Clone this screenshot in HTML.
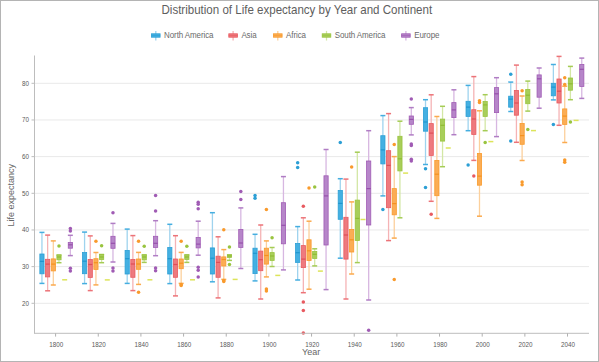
<!DOCTYPE html>
<html><head><meta charset="utf-8"><style>
html,body{margin:0;padding:0;background:#fff;}
.wrap{position:relative;width:599px;height:362px;overflow:hidden;}
.frame{position:absolute;left:0;top:0;width:597px;height:360px;border:1px solid #b4b4b4;}
svg{position:absolute;left:0;top:0;}
text{font-family:"Liberation Sans",sans-serif;}
.tk{font-size:6.3px;fill:#5a5a5a;}
.title{font-size:11.55px;fill:#5e5e5e;}
.axt{font-size:9px;fill:#666;}
.leg{font-size:8px;fill:#6a6a6a;letter-spacing:-0.1px;}
</style></head><body><div class="wrap"><div class="frame"></div>
<svg width="599" height="362" viewBox="0 0 599 362">
<line x1="34.5" y1="303.30" x2="589.0" y2="303.30" stroke="#e9e9e9" stroke-width="1"/>
<line x1="34.5" y1="266.63" x2="589.0" y2="266.63" stroke="#e9e9e9" stroke-width="1"/>
<line x1="34.5" y1="229.97" x2="589.0" y2="229.97" stroke="#e9e9e9" stroke-width="1"/>
<line x1="34.5" y1="193.30" x2="589.0" y2="193.30" stroke="#e9e9e9" stroke-width="1"/>
<line x1="34.5" y1="156.63" x2="589.0" y2="156.63" stroke="#e9e9e9" stroke-width="1"/>
<line x1="34.5" y1="119.97" x2="589.0" y2="119.97" stroke="#e9e9e9" stroke-width="1"/>
<line x1="34.5" y1="83.30" x2="589.0" y2="83.30" stroke="#e9e9e9" stroke-width="1"/>
<line x1="41.95" y1="232.40" x2="41.95" y2="254.00" stroke="#9fd3ee" stroke-width="1.3"/>
<line x1="41.95" y1="273.80" x2="41.95" y2="283.40" stroke="#9fd3ee" stroke-width="1.3"/>
<line x1="39.45" y1="232.40" x2="44.45" y2="232.40" stroke="#45aee0" stroke-width="1.5"/>
<line x1="39.45" y1="283.40" x2="44.45" y2="283.40" stroke="#45aee0" stroke-width="1.5"/>
<rect x="39.85" y="254.00" width="4.2" height="19.80" fill="#44b0e2" stroke="#2c9fd5" stroke-width="0.8"/>
<line x1="39.85" y1="261.40" x2="44.05" y2="261.40" stroke="#1f96cf" stroke-width="1.2"/>
<line x1="47.63" y1="235.10" x2="47.63" y2="259.30" stroke="#f5b3b5" stroke-width="1.3"/>
<line x1="47.63" y1="276.90" x2="47.63" y2="290.80" stroke="#f5b3b5" stroke-width="1.3"/>
<line x1="45.13" y1="235.10" x2="50.13" y2="235.10" stroke="#ec7378" stroke-width="1.5"/>
<line x1="45.13" y1="290.80" x2="50.13" y2="290.80" stroke="#ec7378" stroke-width="1.5"/>
<rect x="45.53" y="259.30" width="4.2" height="17.60" fill="#ee7a7e" stroke="#e85a60" stroke-width="0.8"/>
<line x1="45.53" y1="264.10" x2="49.73" y2="264.10" stroke="#e04e56" stroke-width="1.2"/>
<line x1="53.31" y1="240.90" x2="53.31" y2="258.90" stroke="#fcd09c" stroke-width="1.3"/>
<line x1="53.31" y1="270.90" x2="53.31" y2="285.00" stroke="#fcd09c" stroke-width="1.3"/>
<line x1="50.81" y1="240.90" x2="55.81" y2="240.90" stroke="#fbaa4e" stroke-width="1.5"/>
<line x1="50.81" y1="285.00" x2="55.81" y2="285.00" stroke="#fbaa4e" stroke-width="1.5"/>
<rect x="51.21" y="258.90" width="4.2" height="12.00" fill="#fbad55" stroke="#f99a2c" stroke-width="0.8"/>
<line x1="51.21" y1="264.10" x2="55.41" y2="264.10" stroke="#f5921f" stroke-width="1.2"/>
<line x1="58.99" y1="259.80" x2="58.99" y2="262.70" stroke="#d3e7a5" stroke-width="1.3"/>
<line x1="56.49" y1="255.00" x2="61.49" y2="255.00" stroke="#a5cc55" stroke-width="1.5"/>
<line x1="56.49" y1="262.70" x2="61.49" y2="262.70" stroke="#a5cc55" stroke-width="1.5"/>
<rect x="56.89" y="255.00" width="4.2" height="4.80" fill="#a8ce5a" stroke="#99c43f" stroke-width="0.8"/>
<line x1="56.89" y1="257.00" x2="61.09" y2="257.00" stroke="#8fbc33" stroke-width="1.2"/>
<circle cx="58.99" cy="245.90" r="1.75" fill="#99c43f"/>
<line x1="62.17" y1="279.80" x2="67.17" y2="279.80" stroke="#dde45a" stroke-width="1.5"/>
<line x1="70.35" y1="235.30" x2="70.35" y2="242.40" stroke="#d7b7e1" stroke-width="1.3"/>
<line x1="70.35" y1="248.20" x2="70.35" y2="255.60" stroke="#d7b7e1" stroke-width="1.3"/>
<line x1="67.85" y1="235.30" x2="72.85" y2="235.30" stroke="#b07dc4" stroke-width="1.5"/>
<line x1="67.85" y1="255.60" x2="72.85" y2="255.60" stroke="#b07dc4" stroke-width="1.5"/>
<rect x="68.25" y="242.40" width="4.2" height="5.80" fill="#b686c9" stroke="#a05bb4" stroke-width="0.8"/>
<line x1="68.25" y1="244.80" x2="72.45" y2="244.80" stroke="#9750ab" stroke-width="1.2"/>
<circle cx="70.35" cy="228.60" r="1.75" fill="#a05bb4"/>
<circle cx="70.35" cy="231.00" r="1.75" fill="#a05bb4"/>
<circle cx="70.35" cy="268.20" r="1.75" fill="#a05bb4"/>
<circle cx="70.35" cy="270.90" r="1.75" fill="#a05bb4"/>
<line x1="84.57" y1="232.10" x2="84.57" y2="252.50" stroke="#9fd3ee" stroke-width="1.3"/>
<line x1="84.57" y1="273.70" x2="84.57" y2="283.60" stroke="#9fd3ee" stroke-width="1.3"/>
<line x1="82.07" y1="232.10" x2="87.07" y2="232.10" stroke="#45aee0" stroke-width="1.5"/>
<line x1="82.07" y1="283.60" x2="87.07" y2="283.60" stroke="#45aee0" stroke-width="1.5"/>
<rect x="82.47" y="252.50" width="4.2" height="21.20" fill="#44b0e2" stroke="#2c9fd5" stroke-width="0.8"/>
<line x1="82.47" y1="261.20" x2="86.67" y2="261.20" stroke="#1f96cf" stroke-width="1.2"/>
<line x1="90.25" y1="235.90" x2="90.25" y2="259.50" stroke="#f5b3b5" stroke-width="1.3"/>
<line x1="90.25" y1="277.40" x2="90.25" y2="290.60" stroke="#f5b3b5" stroke-width="1.3"/>
<line x1="87.75" y1="235.90" x2="92.75" y2="235.90" stroke="#ec7378" stroke-width="1.5"/>
<line x1="87.75" y1="290.60" x2="92.75" y2="290.60" stroke="#ec7378" stroke-width="1.5"/>
<rect x="88.15" y="259.50" width="4.2" height="17.90" fill="#ee7a7e" stroke="#e85a60" stroke-width="0.8"/>
<line x1="88.15" y1="264.50" x2="92.35" y2="264.50" stroke="#e04e56" stroke-width="1.2"/>
<line x1="95.93" y1="252.50" x2="95.93" y2="258.70" stroke="#fcd09c" stroke-width="1.3"/>
<line x1="95.93" y1="269.40" x2="95.93" y2="284.90" stroke="#fcd09c" stroke-width="1.3"/>
<line x1="93.43" y1="252.50" x2="98.43" y2="252.50" stroke="#fbaa4e" stroke-width="1.5"/>
<line x1="93.43" y1="284.90" x2="98.43" y2="284.90" stroke="#fbaa4e" stroke-width="1.5"/>
<rect x="93.83" y="258.70" width="4.2" height="10.70" fill="#fbad55" stroke="#f99a2c" stroke-width="0.8"/>
<line x1="93.83" y1="262.70" x2="98.03" y2="262.70" stroke="#f5921f" stroke-width="1.2"/>
<circle cx="95.93" cy="241.30" r="1.75" fill="#f99a2c"/>
<line x1="101.61" y1="259.50" x2="101.61" y2="262.70" stroke="#d3e7a5" stroke-width="1.3"/>
<line x1="99.11" y1="254.50" x2="104.11" y2="254.50" stroke="#a5cc55" stroke-width="1.5"/>
<line x1="99.11" y1="262.70" x2="104.11" y2="262.70" stroke="#a5cc55" stroke-width="1.5"/>
<rect x="99.51" y="254.50" width="4.2" height="5.00" fill="#a8ce5a" stroke="#99c43f" stroke-width="0.8"/>
<line x1="99.51" y1="257.00" x2="103.71" y2="257.00" stroke="#8fbc33" stroke-width="1.2"/>
<circle cx="101.61" cy="245.80" r="1.75" fill="#99c43f"/>
<line x1="104.79" y1="279.90" x2="109.79" y2="279.90" stroke="#dde45a" stroke-width="1.5"/>
<line x1="112.97" y1="223.40" x2="112.97" y2="236.30" stroke="#d7b7e1" stroke-width="1.3"/>
<line x1="112.97" y1="248.30" x2="112.97" y2="262.00" stroke="#d7b7e1" stroke-width="1.3"/>
<line x1="110.47" y1="223.40" x2="115.47" y2="223.40" stroke="#b07dc4" stroke-width="1.5"/>
<line x1="110.47" y1="262.00" x2="115.47" y2="262.00" stroke="#b07dc4" stroke-width="1.5"/>
<rect x="110.87" y="236.30" width="4.2" height="12.00" fill="#b686c9" stroke="#a05bb4" stroke-width="0.8"/>
<line x1="110.87" y1="243.30" x2="115.07" y2="243.30" stroke="#9750ab" stroke-width="1.2"/>
<circle cx="112.97" cy="212.70" r="1.75" fill="#a05bb4"/>
<circle cx="112.97" cy="268.00" r="1.75" fill="#a05bb4"/>
<circle cx="112.97" cy="270.90" r="1.75" fill="#a05bb4"/>
<line x1="127.19" y1="229.10" x2="127.19" y2="250.40" stroke="#9fd3ee" stroke-width="1.3"/>
<line x1="127.19" y1="274.00" x2="127.19" y2="283.40" stroke="#9fd3ee" stroke-width="1.3"/>
<line x1="124.69" y1="229.10" x2="129.69" y2="229.10" stroke="#45aee0" stroke-width="1.5"/>
<line x1="124.69" y1="283.40" x2="129.69" y2="283.40" stroke="#45aee0" stroke-width="1.5"/>
<rect x="125.09" y="250.40" width="4.2" height="23.60" fill="#44b0e2" stroke="#2c9fd5" stroke-width="0.8"/>
<line x1="125.09" y1="258.70" x2="129.29" y2="258.70" stroke="#1f96cf" stroke-width="1.2"/>
<line x1="132.87" y1="235.60" x2="132.87" y2="259.40" stroke="#f5b3b5" stroke-width="1.3"/>
<line x1="132.87" y1="277.30" x2="132.87" y2="290.60" stroke="#f5b3b5" stroke-width="1.3"/>
<line x1="130.37" y1="235.60" x2="135.37" y2="235.60" stroke="#ec7378" stroke-width="1.5"/>
<line x1="130.37" y1="290.60" x2="135.37" y2="290.60" stroke="#ec7378" stroke-width="1.5"/>
<rect x="130.77" y="259.40" width="4.2" height="17.90" fill="#ee7a7e" stroke="#e85a60" stroke-width="0.8"/>
<line x1="130.77" y1="264.00" x2="134.97" y2="264.00" stroke="#e04e56" stroke-width="1.2"/>
<line x1="138.55" y1="252.40" x2="138.55" y2="259.00" stroke="#fcd09c" stroke-width="1.3"/>
<line x1="138.55" y1="269.30" x2="138.55" y2="284.40" stroke="#fcd09c" stroke-width="1.3"/>
<line x1="136.05" y1="252.40" x2="141.05" y2="252.40" stroke="#fbaa4e" stroke-width="1.5"/>
<line x1="136.05" y1="284.40" x2="141.05" y2="284.40" stroke="#fbaa4e" stroke-width="1.5"/>
<rect x="136.45" y="259.00" width="4.2" height="10.30" fill="#fbad55" stroke="#f99a2c" stroke-width="0.8"/>
<line x1="136.45" y1="264.00" x2="140.65" y2="264.00" stroke="#f5921f" stroke-width="1.2"/>
<circle cx="138.55" cy="241.30" r="1.75" fill="#f99a2c"/>
<circle cx="138.55" cy="292.20" r="1.75" fill="#f99a2c"/>
<line x1="144.23" y1="259.90" x2="144.23" y2="262.40" stroke="#d3e7a5" stroke-width="1.3"/>
<line x1="141.73" y1="254.90" x2="146.73" y2="254.90" stroke="#a5cc55" stroke-width="1.5"/>
<line x1="141.73" y1="262.40" x2="146.73" y2="262.40" stroke="#a5cc55" stroke-width="1.5"/>
<rect x="142.13" y="254.90" width="4.2" height="5.00" fill="#a8ce5a" stroke="#99c43f" stroke-width="0.8"/>
<line x1="142.13" y1="257.00" x2="146.33" y2="257.00" stroke="#8fbc33" stroke-width="1.2"/>
<circle cx="144.23" cy="246.30" r="1.75" fill="#99c43f"/>
<line x1="147.41" y1="279.80" x2="152.41" y2="279.80" stroke="#dde45a" stroke-width="1.5"/>
<line x1="155.59" y1="220.70" x2="155.59" y2="236.30" stroke="#d7b7e1" stroke-width="1.3"/>
<line x1="155.59" y1="247.40" x2="155.59" y2="255.70" stroke="#d7b7e1" stroke-width="1.3"/>
<line x1="153.09" y1="220.70" x2="158.09" y2="220.70" stroke="#b07dc4" stroke-width="1.5"/>
<line x1="153.09" y1="255.70" x2="158.09" y2="255.70" stroke="#b07dc4" stroke-width="1.5"/>
<rect x="153.49" y="236.30" width="4.2" height="11.10" fill="#b686c9" stroke="#a05bb4" stroke-width="0.8"/>
<line x1="153.49" y1="243.30" x2="157.69" y2="243.30" stroke="#9750ab" stroke-width="1.2"/>
<circle cx="155.59" cy="195.50" r="1.75" fill="#a05bb4"/>
<circle cx="155.59" cy="211.10" r="1.75" fill="#a05bb4"/>
<circle cx="155.59" cy="267.90" r="1.75" fill="#a05bb4"/>
<circle cx="155.59" cy="270.70" r="1.75" fill="#a05bb4"/>
<line x1="169.80" y1="224.30" x2="169.80" y2="247.40" stroke="#9fd3ee" stroke-width="1.3"/>
<line x1="169.80" y1="274.00" x2="169.80" y2="283.60" stroke="#9fd3ee" stroke-width="1.3"/>
<line x1="167.30" y1="224.30" x2="172.30" y2="224.30" stroke="#45aee0" stroke-width="1.5"/>
<line x1="167.30" y1="283.60" x2="172.30" y2="283.60" stroke="#45aee0" stroke-width="1.5"/>
<rect x="167.70" y="247.40" width="4.2" height="26.60" fill="#44b0e2" stroke="#2c9fd5" stroke-width="0.8"/>
<line x1="167.70" y1="258.70" x2="171.90" y2="258.70" stroke="#1f96cf" stroke-width="1.2"/>
<line x1="175.48" y1="235.70" x2="175.48" y2="259.00" stroke="#f5b3b5" stroke-width="1.3"/>
<line x1="175.48" y1="277.30" x2="175.48" y2="295.90" stroke="#f5b3b5" stroke-width="1.3"/>
<line x1="172.98" y1="235.70" x2="177.98" y2="235.70" stroke="#ec7378" stroke-width="1.5"/>
<line x1="172.98" y1="295.90" x2="177.98" y2="295.90" stroke="#ec7378" stroke-width="1.5"/>
<rect x="173.38" y="259.00" width="4.2" height="18.30" fill="#ee7a7e" stroke="#e85a60" stroke-width="0.8"/>
<line x1="173.38" y1="264.50" x2="177.58" y2="264.50" stroke="#e04e56" stroke-width="1.2"/>
<line x1="181.16" y1="252.40" x2="181.16" y2="259.00" stroke="#fcd09c" stroke-width="1.3"/>
<line x1="181.16" y1="268.70" x2="181.16" y2="283.40" stroke="#fcd09c" stroke-width="1.3"/>
<line x1="178.66" y1="252.40" x2="183.66" y2="252.40" stroke="#fbaa4e" stroke-width="1.5"/>
<line x1="178.66" y1="283.40" x2="183.66" y2="283.40" stroke="#fbaa4e" stroke-width="1.5"/>
<rect x="179.06" y="259.00" width="4.2" height="9.70" fill="#fbad55" stroke="#f99a2c" stroke-width="0.8"/>
<line x1="179.06" y1="263.20" x2="183.26" y2="263.20" stroke="#f5921f" stroke-width="1.2"/>
<circle cx="181.16" cy="241.30" r="1.75" fill="#f99a2c"/>
<circle cx="181.16" cy="284.60" r="1.75" fill="#f99a2c"/>
<circle cx="181.16" cy="285.60" r="1.75" fill="#f99a2c"/>
<line x1="186.84" y1="259.50" x2="186.84" y2="262.40" stroke="#d3e7a5" stroke-width="1.3"/>
<line x1="184.34" y1="254.90" x2="189.34" y2="254.90" stroke="#a5cc55" stroke-width="1.5"/>
<line x1="184.34" y1="262.40" x2="189.34" y2="262.40" stroke="#a5cc55" stroke-width="1.5"/>
<rect x="184.74" y="254.90" width="4.2" height="4.60" fill="#a8ce5a" stroke="#99c43f" stroke-width="0.8"/>
<line x1="184.74" y1="257.00" x2="188.94" y2="257.00" stroke="#8fbc33" stroke-width="1.2"/>
<circle cx="186.84" cy="246.30" r="1.75" fill="#99c43f"/>
<line x1="190.02" y1="279.80" x2="195.02" y2="279.80" stroke="#dde45a" stroke-width="1.5"/>
<line x1="198.20" y1="221.20" x2="198.20" y2="237.40" stroke="#d7b7e1" stroke-width="1.3"/>
<line x1="198.20" y1="247.90" x2="198.20" y2="255.20" stroke="#d7b7e1" stroke-width="1.3"/>
<line x1="195.70" y1="221.20" x2="200.70" y2="221.20" stroke="#b07dc4" stroke-width="1.5"/>
<line x1="195.70" y1="255.20" x2="200.70" y2="255.20" stroke="#b07dc4" stroke-width="1.5"/>
<rect x="196.10" y="237.40" width="4.2" height="10.50" fill="#b686c9" stroke="#a05bb4" stroke-width="0.8"/>
<line x1="196.10" y1="244.10" x2="200.30" y2="244.10" stroke="#9750ab" stroke-width="1.2"/>
<circle cx="198.20" cy="202.20" r="1.75" fill="#a05bb4"/>
<circle cx="198.20" cy="204.20" r="1.75" fill="#a05bb4"/>
<circle cx="198.20" cy="208.80" r="1.75" fill="#a05bb4"/>
<circle cx="198.20" cy="267.30" r="1.75" fill="#a05bb4"/>
<circle cx="198.20" cy="270.20" r="1.75" fill="#a05bb4"/>
<circle cx="198.20" cy="277.00" r="1.75" fill="#a05bb4"/>
<line x1="212.42" y1="212.70" x2="212.42" y2="247.90" stroke="#9fd3ee" stroke-width="1.3"/>
<line x1="212.42" y1="274.00" x2="212.42" y2="281.80" stroke="#9fd3ee" stroke-width="1.3"/>
<line x1="209.92" y1="212.70" x2="214.92" y2="212.70" stroke="#45aee0" stroke-width="1.5"/>
<line x1="209.92" y1="281.80" x2="214.92" y2="281.80" stroke="#45aee0" stroke-width="1.5"/>
<rect x="210.32" y="247.90" width="4.2" height="26.10" fill="#44b0e2" stroke="#2c9fd5" stroke-width="0.8"/>
<line x1="210.32" y1="258.20" x2="214.52" y2="258.20" stroke="#1f96cf" stroke-width="1.2"/>
<line x1="218.10" y1="236.80" x2="218.10" y2="256.20" stroke="#f5b3b5" stroke-width="1.3"/>
<line x1="218.10" y1="277.30" x2="218.10" y2="297.90" stroke="#f5b3b5" stroke-width="1.3"/>
<line x1="215.60" y1="236.80" x2="220.60" y2="236.80" stroke="#ec7378" stroke-width="1.5"/>
<line x1="215.60" y1="297.90" x2="220.60" y2="297.90" stroke="#ec7378" stroke-width="1.5"/>
<rect x="216.00" y="256.20" width="4.2" height="21.10" fill="#ee7a7e" stroke="#e85a60" stroke-width="0.8"/>
<line x1="216.00" y1="262.40" x2="220.20" y2="262.40" stroke="#e04e56" stroke-width="1.2"/>
<line x1="223.78" y1="249.60" x2="223.78" y2="256.90" stroke="#fcd09c" stroke-width="1.3"/>
<line x1="223.78" y1="266.00" x2="223.78" y2="279.40" stroke="#fcd09c" stroke-width="1.3"/>
<line x1="221.28" y1="249.60" x2="226.28" y2="249.60" stroke="#fbaa4e" stroke-width="1.5"/>
<line x1="221.28" y1="279.40" x2="226.28" y2="279.40" stroke="#fbaa4e" stroke-width="1.5"/>
<rect x="221.68" y="256.90" width="4.2" height="9.10" fill="#fbad55" stroke="#f99a2c" stroke-width="0.8"/>
<line x1="221.68" y1="259.50" x2="225.88" y2="259.50" stroke="#f5921f" stroke-width="1.2"/>
<circle cx="223.78" cy="229.80" r="1.75" fill="#f99a2c"/>
<circle cx="223.78" cy="280.60" r="1.75" fill="#f99a2c"/>
<circle cx="223.78" cy="281.60" r="1.75" fill="#f99a2c"/>
<line x1="229.46" y1="257.40" x2="229.46" y2="260.40" stroke="#d3e7a5" stroke-width="1.3"/>
<line x1="226.96" y1="254.90" x2="231.96" y2="254.90" stroke="#a5cc55" stroke-width="1.5"/>
<line x1="226.96" y1="260.40" x2="231.96" y2="260.40" stroke="#a5cc55" stroke-width="1.5"/>
<rect x="227.36" y="254.90" width="4.2" height="2.50" fill="#a8ce5a" stroke="#99c43f" stroke-width="0.8"/>
<line x1="227.36" y1="256.00" x2="231.56" y2="256.00" stroke="#8fbc33" stroke-width="1.2"/>
<circle cx="229.46" cy="247.10" r="1.75" fill="#99c43f"/>
<circle cx="229.46" cy="264.40" r="1.75" fill="#99c43f"/>
<line x1="232.64" y1="279.40" x2="237.64" y2="279.40" stroke="#dde45a" stroke-width="1.5"/>
<line x1="240.82" y1="207.90" x2="240.82" y2="229.40" stroke="#d7b7e1" stroke-width="1.3"/>
<line x1="240.82" y1="247.40" x2="240.82" y2="268.50" stroke="#d7b7e1" stroke-width="1.3"/>
<line x1="238.32" y1="207.90" x2="243.32" y2="207.90" stroke="#b07dc4" stroke-width="1.5"/>
<line x1="238.32" y1="268.50" x2="243.32" y2="268.50" stroke="#b07dc4" stroke-width="1.5"/>
<rect x="238.72" y="229.40" width="4.2" height="18.00" fill="#b686c9" stroke="#a05bb4" stroke-width="0.8"/>
<line x1="238.72" y1="243.00" x2="242.92" y2="243.00" stroke="#9750ab" stroke-width="1.2"/>
<circle cx="240.82" cy="191.60" r="1.75" fill="#a05bb4"/>
<circle cx="240.82" cy="199.40" r="1.75" fill="#a05bb4"/>
<line x1="255.04" y1="234.30" x2="255.04" y2="248.20" stroke="#9fd3ee" stroke-width="1.3"/>
<line x1="255.04" y1="273.60" x2="255.04" y2="280.90" stroke="#9fd3ee" stroke-width="1.3"/>
<line x1="252.54" y1="234.30" x2="257.54" y2="234.30" stroke="#45aee0" stroke-width="1.5"/>
<line x1="252.54" y1="280.90" x2="257.54" y2="280.90" stroke="#45aee0" stroke-width="1.5"/>
<rect x="252.94" y="248.20" width="4.2" height="25.40" fill="#44b0e2" stroke="#2c9fd5" stroke-width="0.8"/>
<line x1="252.94" y1="253.30" x2="257.14" y2="253.30" stroke="#1f96cf" stroke-width="1.2"/>
<circle cx="255.04" cy="195.60" r="1.75" fill="#2c9fd5"/>
<circle cx="255.04" cy="198.30" r="1.75" fill="#2c9fd5"/>
<line x1="260.72" y1="225.00" x2="260.72" y2="251.10" stroke="#f5b3b5" stroke-width="1.3"/>
<line x1="260.72" y1="270.70" x2="260.72" y2="299.00" stroke="#f5b3b5" stroke-width="1.3"/>
<line x1="258.22" y1="225.00" x2="263.22" y2="225.00" stroke="#ec7378" stroke-width="1.5"/>
<line x1="258.22" y1="299.00" x2="263.22" y2="299.00" stroke="#ec7378" stroke-width="1.5"/>
<rect x="258.62" y="251.10" width="4.2" height="19.60" fill="#ee7a7e" stroke="#e85a60" stroke-width="0.8"/>
<line x1="258.62" y1="259.70" x2="262.82" y2="259.70" stroke="#e04e56" stroke-width="1.2"/>
<line x1="266.40" y1="240.90" x2="266.40" y2="248.20" stroke="#fcd09c" stroke-width="1.3"/>
<line x1="266.40" y1="264.10" x2="266.40" y2="276.90" stroke="#fcd09c" stroke-width="1.3"/>
<line x1="263.90" y1="240.90" x2="268.90" y2="240.90" stroke="#fbaa4e" stroke-width="1.5"/>
<line x1="263.90" y1="276.90" x2="268.90" y2="276.90" stroke="#fbaa4e" stroke-width="1.5"/>
<rect x="264.30" y="248.20" width="4.2" height="15.90" fill="#fbad55" stroke="#f99a2c" stroke-width="0.8"/>
<line x1="264.30" y1="255.50" x2="268.50" y2="255.50" stroke="#f5921f" stroke-width="1.2"/>
<circle cx="266.40" cy="209.50" r="1.75" fill="#f99a2c"/>
<circle cx="266.40" cy="289.00" r="1.75" fill="#f99a2c"/>
<circle cx="266.40" cy="291.00" r="1.75" fill="#f99a2c"/>
<line x1="272.08" y1="247.50" x2="272.08" y2="252.60" stroke="#d3e7a5" stroke-width="1.3"/>
<line x1="272.08" y1="260.40" x2="272.08" y2="266.50" stroke="#d3e7a5" stroke-width="1.3"/>
<line x1="269.58" y1="247.50" x2="274.58" y2="247.50" stroke="#a5cc55" stroke-width="1.5"/>
<line x1="269.58" y1="266.50" x2="274.58" y2="266.50" stroke="#a5cc55" stroke-width="1.5"/>
<rect x="269.98" y="252.60" width="4.2" height="7.80" fill="#a8ce5a" stroke="#99c43f" stroke-width="0.8"/>
<line x1="269.98" y1="256.00" x2="274.18" y2="256.00" stroke="#8fbc33" stroke-width="1.2"/>
<circle cx="272.08" cy="237.80" r="1.75" fill="#99c43f"/>
<line x1="275.26" y1="275.40" x2="280.26" y2="275.40" stroke="#dde45a" stroke-width="1.5"/>
<line x1="283.44" y1="176.60" x2="283.44" y2="202.70" stroke="#d7b7e1" stroke-width="1.3"/>
<line x1="283.44" y1="243.80" x2="283.44" y2="269.90" stroke="#d7b7e1" stroke-width="1.3"/>
<line x1="280.94" y1="176.60" x2="285.94" y2="176.60" stroke="#b07dc4" stroke-width="1.5"/>
<line x1="280.94" y1="269.90" x2="285.94" y2="269.90" stroke="#b07dc4" stroke-width="1.5"/>
<rect x="281.34" y="202.70" width="4.2" height="41.10" fill="#b686c9" stroke="#a05bb4" stroke-width="0.8"/>
<line x1="281.34" y1="225.30" x2="285.54" y2="225.30" stroke="#9750ab" stroke-width="1.2"/>
<line x1="297.66" y1="226.60" x2="297.66" y2="243.40" stroke="#9fd3ee" stroke-width="1.3"/>
<line x1="297.66" y1="262.40" x2="297.66" y2="280.00" stroke="#9fd3ee" stroke-width="1.3"/>
<line x1="295.16" y1="226.60" x2="300.16" y2="226.60" stroke="#45aee0" stroke-width="1.5"/>
<line x1="295.16" y1="280.00" x2="300.16" y2="280.00" stroke="#45aee0" stroke-width="1.5"/>
<rect x="295.56" y="243.40" width="4.2" height="19.00" fill="#44b0e2" stroke="#2c9fd5" stroke-width="0.8"/>
<line x1="295.56" y1="252.70" x2="299.76" y2="252.70" stroke="#1f96cf" stroke-width="1.2"/>
<circle cx="297.66" cy="162.80" r="1.75" fill="#2c9fd5"/>
<circle cx="297.66" cy="167.60" r="1.75" fill="#2c9fd5"/>
<line x1="303.34" y1="217.80" x2="303.34" y2="245.60" stroke="#f5b3b5" stroke-width="1.3"/>
<line x1="303.34" y1="267.60" x2="303.34" y2="292.70" stroke="#f5b3b5" stroke-width="1.3"/>
<line x1="300.84" y1="217.80" x2="305.84" y2="217.80" stroke="#ec7378" stroke-width="1.5"/>
<line x1="300.84" y1="292.70" x2="305.84" y2="292.70" stroke="#ec7378" stroke-width="1.5"/>
<rect x="301.24" y="245.60" width="4.2" height="22.00" fill="#ee7a7e" stroke="#e85a60" stroke-width="0.8"/>
<line x1="301.24" y1="259.10" x2="305.44" y2="259.10" stroke="#e04e56" stroke-width="1.2"/>
<circle cx="303.34" cy="206.30" r="1.75" fill="#e85a60"/>
<circle cx="303.34" cy="302.10" r="1.75" fill="#e85a60"/>
<circle cx="303.34" cy="310.60" r="1.75" fill="#e85a60"/>
<circle cx="303.34" cy="333.10" r="1.75" fill="#e85a60"/>
<line x1="309.02" y1="221.20" x2="309.02" y2="239.80" stroke="#fcd09c" stroke-width="1.3"/>
<line x1="309.02" y1="260.50" x2="309.02" y2="289.20" stroke="#fcd09c" stroke-width="1.3"/>
<line x1="306.52" y1="221.20" x2="311.52" y2="221.20" stroke="#fbaa4e" stroke-width="1.5"/>
<line x1="306.52" y1="289.20" x2="311.52" y2="289.20" stroke="#fbaa4e" stroke-width="1.5"/>
<rect x="306.92" y="239.80" width="4.2" height="20.70" fill="#fbad55" stroke="#f99a2c" stroke-width="0.8"/>
<line x1="306.92" y1="250.80" x2="311.12" y2="250.80" stroke="#f5921f" stroke-width="1.2"/>
<circle cx="309.02" cy="188.00" r="1.75" fill="#f99a2c"/>
<line x1="314.70" y1="248.80" x2="314.70" y2="251.40" stroke="#d3e7a5" stroke-width="1.3"/>
<line x1="314.70" y1="258.50" x2="314.70" y2="265.90" stroke="#d3e7a5" stroke-width="1.3"/>
<line x1="312.20" y1="248.80" x2="317.20" y2="248.80" stroke="#a5cc55" stroke-width="1.5"/>
<line x1="312.20" y1="265.90" x2="317.20" y2="265.90" stroke="#a5cc55" stroke-width="1.5"/>
<rect x="312.60" y="251.40" width="4.2" height="7.10" fill="#a8ce5a" stroke="#99c43f" stroke-width="0.8"/>
<line x1="312.60" y1="254.30" x2="316.80" y2="254.30" stroke="#8fbc33" stroke-width="1.2"/>
<circle cx="314.70" cy="187.10" r="1.75" fill="#99c43f"/>
<line x1="317.88" y1="271.10" x2="322.88" y2="271.10" stroke="#dde45a" stroke-width="1.5"/>
<line x1="326.06" y1="149.50" x2="326.06" y2="175.80" stroke="#d7b7e1" stroke-width="1.3"/>
<line x1="326.06" y1="245.00" x2="326.06" y2="289.60" stroke="#d7b7e1" stroke-width="1.3"/>
<line x1="323.56" y1="149.50" x2="328.56" y2="149.50" stroke="#b07dc4" stroke-width="1.5"/>
<line x1="323.56" y1="289.60" x2="328.56" y2="289.60" stroke="#b07dc4" stroke-width="1.5"/>
<rect x="323.96" y="175.80" width="4.2" height="69.20" fill="#b686c9" stroke="#a05bb4" stroke-width="0.8"/>
<line x1="323.96" y1="195.90" x2="328.16" y2="195.90" stroke="#9750ab" stroke-width="1.2"/>
<line x1="340.28" y1="178.70" x2="340.28" y2="190.40" stroke="#9fd3ee" stroke-width="1.3"/>
<line x1="340.28" y1="219.30" x2="340.28" y2="258.20" stroke="#9fd3ee" stroke-width="1.3"/>
<line x1="337.78" y1="178.70" x2="342.78" y2="178.70" stroke="#45aee0" stroke-width="1.5"/>
<line x1="337.78" y1="258.20" x2="342.78" y2="258.20" stroke="#45aee0" stroke-width="1.5"/>
<rect x="338.18" y="190.40" width="4.2" height="28.90" fill="#44b0e2" stroke="#2c9fd5" stroke-width="0.8"/>
<line x1="338.18" y1="203.40" x2="342.38" y2="203.40" stroke="#1f96cf" stroke-width="1.2"/>
<circle cx="340.28" cy="142.50" r="1.75" fill="#2c9fd5"/>
<line x1="345.96" y1="179.10" x2="345.96" y2="217.30" stroke="#f5b3b5" stroke-width="1.3"/>
<line x1="345.96" y1="259.10" x2="345.96" y2="299.00" stroke="#f5b3b5" stroke-width="1.3"/>
<line x1="343.46" y1="179.10" x2="348.46" y2="179.10" stroke="#ec7378" stroke-width="1.5"/>
<line x1="343.46" y1="299.00" x2="348.46" y2="299.00" stroke="#ec7378" stroke-width="1.5"/>
<rect x="343.86" y="217.30" width="4.2" height="41.80" fill="#ee7a7e" stroke="#e85a60" stroke-width="0.8"/>
<line x1="343.86" y1="235.00" x2="348.06" y2="235.00" stroke="#e04e56" stroke-width="1.2"/>
<line x1="351.64" y1="201.90" x2="351.64" y2="229.40" stroke="#fcd09c" stroke-width="1.3"/>
<line x1="351.64" y1="252.00" x2="351.64" y2="274.00" stroke="#fcd09c" stroke-width="1.3"/>
<line x1="349.14" y1="201.90" x2="354.14" y2="201.90" stroke="#fbaa4e" stroke-width="1.5"/>
<line x1="349.14" y1="274.00" x2="354.14" y2="274.00" stroke="#fbaa4e" stroke-width="1.5"/>
<rect x="349.54" y="229.40" width="4.2" height="22.60" fill="#fbad55" stroke="#f99a2c" stroke-width="0.8"/>
<line x1="349.54" y1="239.80" x2="353.74" y2="239.80" stroke="#f5921f" stroke-width="1.2"/>
<circle cx="351.64" cy="167.00" r="1.75" fill="#f99a2c"/>
<line x1="357.32" y1="152.20" x2="357.32" y2="200.10" stroke="#d3e7a5" stroke-width="1.3"/>
<line x1="357.32" y1="240.50" x2="357.32" y2="262.60" stroke="#d3e7a5" stroke-width="1.3"/>
<line x1="354.82" y1="152.20" x2="359.82" y2="152.20" stroke="#a5cc55" stroke-width="1.5"/>
<line x1="354.82" y1="262.60" x2="359.82" y2="262.60" stroke="#a5cc55" stroke-width="1.5"/>
<rect x="355.22" y="200.10" width="4.2" height="40.40" fill="#a8ce5a" stroke="#99c43f" stroke-width="0.8"/>
<line x1="355.22" y1="218.40" x2="359.42" y2="218.40" stroke="#8fbc33" stroke-width="1.2"/>
<line x1="360.50" y1="219.50" x2="365.50" y2="219.50" stroke="#dde45a" stroke-width="1.5"/>
<line x1="368.68" y1="130.70" x2="368.68" y2="161.00" stroke="#d7b7e1" stroke-width="1.3"/>
<line x1="368.68" y1="225.00" x2="368.68" y2="300.00" stroke="#d7b7e1" stroke-width="1.3"/>
<line x1="366.18" y1="130.70" x2="371.18" y2="130.70" stroke="#b07dc4" stroke-width="1.5"/>
<line x1="366.18" y1="300.00" x2="371.18" y2="300.00" stroke="#b07dc4" stroke-width="1.5"/>
<rect x="366.58" y="161.00" width="4.2" height="64.00" fill="#b686c9" stroke="#a05bb4" stroke-width="0.8"/>
<line x1="366.58" y1="188.60" x2="370.78" y2="188.60" stroke="#9750ab" stroke-width="1.2"/>
<circle cx="368.68" cy="330.30" r="1.75" fill="#a05bb4"/>
<line x1="382.89" y1="115.60" x2="382.89" y2="135.70" stroke="#9fd3ee" stroke-width="1.3"/>
<line x1="382.89" y1="163.90" x2="382.89" y2="195.90" stroke="#9fd3ee" stroke-width="1.3"/>
<line x1="380.39" y1="115.60" x2="385.39" y2="115.60" stroke="#45aee0" stroke-width="1.5"/>
<line x1="380.39" y1="195.90" x2="385.39" y2="195.90" stroke="#45aee0" stroke-width="1.5"/>
<rect x="380.79" y="135.70" width="4.2" height="28.20" fill="#44b0e2" stroke="#2c9fd5" stroke-width="0.8"/>
<line x1="380.79" y1="149.90" x2="384.99" y2="149.90" stroke="#1f96cf" stroke-width="1.2"/>
<circle cx="382.89" cy="209.60" r="1.75" fill="#2c9fd5"/>
<line x1="388.57" y1="113.60" x2="388.57" y2="150.70" stroke="#f5b3b5" stroke-width="1.3"/>
<line x1="388.57" y1="207.70" x2="388.57" y2="240.60" stroke="#f5b3b5" stroke-width="1.3"/>
<line x1="386.07" y1="113.60" x2="391.07" y2="113.60" stroke="#ec7378" stroke-width="1.5"/>
<line x1="386.07" y1="240.60" x2="391.07" y2="240.60" stroke="#ec7378" stroke-width="1.5"/>
<rect x="386.47" y="150.70" width="4.2" height="57.00" fill="#ee7a7e" stroke="#e85a60" stroke-width="0.8"/>
<line x1="386.47" y1="165.40" x2="390.67" y2="165.40" stroke="#e04e56" stroke-width="1.2"/>
<line x1="394.25" y1="156.60" x2="394.25" y2="188.60" stroke="#fcd09c" stroke-width="1.3"/>
<line x1="394.25" y1="214.80" x2="394.25" y2="238.10" stroke="#fcd09c" stroke-width="1.3"/>
<line x1="391.75" y1="156.60" x2="396.75" y2="156.60" stroke="#fbaa4e" stroke-width="1.5"/>
<line x1="391.75" y1="238.10" x2="396.75" y2="238.10" stroke="#fbaa4e" stroke-width="1.5"/>
<rect x="392.15" y="188.60" width="4.2" height="26.20" fill="#fbad55" stroke="#f99a2c" stroke-width="0.8"/>
<line x1="392.15" y1="203.60" x2="396.35" y2="203.60" stroke="#f5921f" stroke-width="1.2"/>
<circle cx="394.25" cy="144.40" r="1.75" fill="#f99a2c"/>
<circle cx="394.25" cy="279.60" r="1.75" fill="#f99a2c"/>
<line x1="399.93" y1="121.20" x2="399.93" y2="136.30" stroke="#d3e7a5" stroke-width="1.3"/>
<line x1="399.93" y1="170.90" x2="399.93" y2="217.80" stroke="#d3e7a5" stroke-width="1.3"/>
<line x1="397.43" y1="121.20" x2="402.43" y2="121.20" stroke="#a5cc55" stroke-width="1.5"/>
<line x1="397.43" y1="217.80" x2="402.43" y2="217.80" stroke="#a5cc55" stroke-width="1.5"/>
<rect x="397.83" y="136.30" width="4.2" height="34.60" fill="#a8ce5a" stroke="#99c43f" stroke-width="0.8"/>
<line x1="397.83" y1="158.80" x2="402.03" y2="158.80" stroke="#8fbc33" stroke-width="1.2"/>
<line x1="403.11" y1="173.10" x2="408.11" y2="173.10" stroke="#dde45a" stroke-width="1.5"/>
<line x1="411.29" y1="107.60" x2="411.29" y2="116.00" stroke="#d7b7e1" stroke-width="1.3"/>
<line x1="411.29" y1="124.30" x2="411.29" y2="134.90" stroke="#d7b7e1" stroke-width="1.3"/>
<line x1="408.79" y1="107.60" x2="413.79" y2="107.60" stroke="#b07dc4" stroke-width="1.5"/>
<line x1="408.79" y1="134.90" x2="413.79" y2="134.90" stroke="#b07dc4" stroke-width="1.5"/>
<rect x="409.19" y="116.00" width="4.2" height="8.30" fill="#b686c9" stroke="#a05bb4" stroke-width="0.8"/>
<line x1="409.19" y1="119.40" x2="413.39" y2="119.40" stroke="#9750ab" stroke-width="1.2"/>
<circle cx="411.29" cy="99.10" r="1.75" fill="#a05bb4"/>
<circle cx="411.29" cy="143.90" r="1.75" fill="#a05bb4"/>
<circle cx="411.29" cy="145.50" r="1.75" fill="#a05bb4"/>
<circle cx="411.29" cy="159.30" r="1.75" fill="#a05bb4"/>
<circle cx="411.29" cy="160.90" r="1.75" fill="#a05bb4"/>
<line x1="425.51" y1="99.70" x2="425.51" y2="107.70" stroke="#9fd3ee" stroke-width="1.3"/>
<line x1="425.51" y1="131.20" x2="425.51" y2="164.50" stroke="#9fd3ee" stroke-width="1.3"/>
<line x1="423.01" y1="99.70" x2="428.01" y2="99.70" stroke="#45aee0" stroke-width="1.5"/>
<line x1="423.01" y1="164.50" x2="428.01" y2="164.50" stroke="#45aee0" stroke-width="1.5"/>
<rect x="423.41" y="107.70" width="4.2" height="23.50" fill="#44b0e2" stroke="#2c9fd5" stroke-width="0.8"/>
<line x1="423.41" y1="122.00" x2="427.61" y2="122.00" stroke="#1f96cf" stroke-width="1.2"/>
<circle cx="425.51" cy="168.70" r="1.75" fill="#2c9fd5"/>
<circle cx="425.51" cy="187.50" r="1.75" fill="#2c9fd5"/>
<line x1="431.19" y1="94.80" x2="431.19" y2="123.60" stroke="#f5b3b5" stroke-width="1.3"/>
<line x1="431.19" y1="155.40" x2="431.19" y2="201.30" stroke="#f5b3b5" stroke-width="1.3"/>
<line x1="428.69" y1="94.80" x2="433.69" y2="94.80" stroke="#ec7378" stroke-width="1.5"/>
<line x1="428.69" y1="201.30" x2="433.69" y2="201.30" stroke="#ec7378" stroke-width="1.5"/>
<rect x="429.09" y="123.60" width="4.2" height="31.80" fill="#ee7a7e" stroke="#e85a60" stroke-width="0.8"/>
<line x1="429.09" y1="133.10" x2="433.29" y2="133.10" stroke="#e04e56" stroke-width="1.2"/>
<circle cx="431.19" cy="214.30" r="1.75" fill="#e85a60"/>
<line x1="436.87" y1="116.50" x2="436.87" y2="160.40" stroke="#fcd09c" stroke-width="1.3"/>
<line x1="436.87" y1="195.70" x2="436.87" y2="218.40" stroke="#fcd09c" stroke-width="1.3"/>
<line x1="434.37" y1="116.50" x2="439.37" y2="116.50" stroke="#fbaa4e" stroke-width="1.5"/>
<line x1="434.37" y1="218.40" x2="439.37" y2="218.40" stroke="#fbaa4e" stroke-width="1.5"/>
<rect x="434.77" y="160.40" width="4.2" height="35.30" fill="#fbad55" stroke="#f99a2c" stroke-width="0.8"/>
<line x1="434.77" y1="174.20" x2="438.97" y2="174.20" stroke="#f5921f" stroke-width="1.2"/>
<line x1="442.55" y1="106.30" x2="442.55" y2="119.10" stroke="#d3e7a5" stroke-width="1.3"/>
<line x1="442.55" y1="141.10" x2="442.55" y2="166.70" stroke="#d3e7a5" stroke-width="1.3"/>
<line x1="440.05" y1="106.30" x2="445.05" y2="106.30" stroke="#a5cc55" stroke-width="1.5"/>
<line x1="440.05" y1="166.70" x2="445.05" y2="166.70" stroke="#a5cc55" stroke-width="1.5"/>
<rect x="440.45" y="119.10" width="4.2" height="22.00" fill="#a8ce5a" stroke="#99c43f" stroke-width="0.8"/>
<line x1="440.45" y1="125.30" x2="444.65" y2="125.30" stroke="#8fbc33" stroke-width="1.2"/>
<line x1="445.73" y1="148.00" x2="450.73" y2="148.00" stroke="#dde45a" stroke-width="1.5"/>
<line x1="453.91" y1="89.80" x2="453.91" y2="102.60" stroke="#d7b7e1" stroke-width="1.3"/>
<line x1="453.91" y1="117.60" x2="453.91" y2="134.70" stroke="#d7b7e1" stroke-width="1.3"/>
<line x1="451.41" y1="89.80" x2="456.41" y2="89.80" stroke="#b07dc4" stroke-width="1.5"/>
<line x1="451.41" y1="134.70" x2="456.41" y2="134.70" stroke="#b07dc4" stroke-width="1.5"/>
<rect x="451.81" y="102.60" width="4.2" height="15.00" fill="#b686c9" stroke="#a05bb4" stroke-width="0.8"/>
<line x1="451.81" y1="109.90" x2="456.01" y2="109.90" stroke="#9750ab" stroke-width="1.2"/>
<line x1="468.13" y1="85.40" x2="468.13" y2="101.30" stroke="#9fd3ee" stroke-width="1.3"/>
<line x1="468.13" y1="116.40" x2="468.13" y2="130.70" stroke="#9fd3ee" stroke-width="1.3"/>
<line x1="465.63" y1="85.40" x2="470.63" y2="85.40" stroke="#45aee0" stroke-width="1.5"/>
<line x1="465.63" y1="130.70" x2="470.63" y2="130.70" stroke="#45aee0" stroke-width="1.5"/>
<rect x="466.03" y="101.30" width="4.2" height="15.10" fill="#44b0e2" stroke="#2c9fd5" stroke-width="0.8"/>
<line x1="466.03" y1="107.10" x2="470.23" y2="107.10" stroke="#1f96cf" stroke-width="1.2"/>
<circle cx="468.13" cy="165.10" r="1.75" fill="#2c9fd5"/>
<line x1="473.81" y1="76.60" x2="473.81" y2="109.70" stroke="#f5b3b5" stroke-width="1.3"/>
<line x1="473.81" y1="134.40" x2="473.81" y2="160.40" stroke="#f5b3b5" stroke-width="1.3"/>
<line x1="471.31" y1="76.60" x2="476.31" y2="76.60" stroke="#ec7378" stroke-width="1.5"/>
<line x1="471.31" y1="160.40" x2="476.31" y2="160.40" stroke="#ec7378" stroke-width="1.5"/>
<rect x="471.71" y="109.70" width="4.2" height="24.70" fill="#ee7a7e" stroke="#e85a60" stroke-width="0.8"/>
<line x1="471.71" y1="119.00" x2="475.91" y2="119.00" stroke="#e04e56" stroke-width="1.2"/>
<circle cx="473.81" cy="176.10" r="1.75" fill="#e85a60"/>
<line x1="479.49" y1="110.80" x2="479.49" y2="153.50" stroke="#fcd09c" stroke-width="1.3"/>
<line x1="479.49" y1="185.20" x2="479.49" y2="216.20" stroke="#fcd09c" stroke-width="1.3"/>
<line x1="476.99" y1="110.80" x2="481.99" y2="110.80" stroke="#fbaa4e" stroke-width="1.5"/>
<line x1="476.99" y1="216.20" x2="481.99" y2="216.20" stroke="#fbaa4e" stroke-width="1.5"/>
<rect x="477.39" y="153.50" width="4.2" height="31.70" fill="#fbad55" stroke="#f99a2c" stroke-width="0.8"/>
<line x1="477.39" y1="176.10" x2="481.59" y2="176.10" stroke="#f5921f" stroke-width="1.2"/>
<circle cx="479.49" cy="100.70" r="1.75" fill="#f99a2c"/>
<circle cx="479.49" cy="102.50" r="1.75" fill="#f99a2c"/>
<line x1="485.17" y1="94.70" x2="485.17" y2="101.50" stroke="#d3e7a5" stroke-width="1.3"/>
<line x1="485.17" y1="116.40" x2="485.17" y2="130.70" stroke="#d3e7a5" stroke-width="1.3"/>
<line x1="482.67" y1="94.70" x2="487.67" y2="94.70" stroke="#a5cc55" stroke-width="1.5"/>
<line x1="482.67" y1="130.70" x2="487.67" y2="130.70" stroke="#a5cc55" stroke-width="1.5"/>
<rect x="483.07" y="101.50" width="4.2" height="14.90" fill="#a8ce5a" stroke="#99c43f" stroke-width="0.8"/>
<line x1="483.07" y1="104.90" x2="487.27" y2="104.90" stroke="#8fbc33" stroke-width="1.2"/>
<circle cx="485.17" cy="142.40" r="1.75" fill="#99c43f"/>
<line x1="488.35" y1="141.60" x2="493.35" y2="141.60" stroke="#dde45a" stroke-width="1.5"/>
<line x1="496.53" y1="77.70" x2="496.53" y2="87.60" stroke="#d7b7e1" stroke-width="1.3"/>
<line x1="496.53" y1="112.60" x2="496.53" y2="136.60" stroke="#d7b7e1" stroke-width="1.3"/>
<line x1="494.03" y1="77.70" x2="499.03" y2="77.70" stroke="#b07dc4" stroke-width="1.5"/>
<line x1="494.03" y1="136.60" x2="499.03" y2="136.60" stroke="#b07dc4" stroke-width="1.5"/>
<rect x="494.43" y="87.60" width="4.2" height="25.00" fill="#b686c9" stroke="#a05bb4" stroke-width="0.8"/>
<line x1="494.43" y1="93.80" x2="498.63" y2="93.80" stroke="#9750ab" stroke-width="1.2"/>
<line x1="510.75" y1="82.10" x2="510.75" y2="96.20" stroke="#9fd3ee" stroke-width="1.3"/>
<line x1="510.75" y1="107.20" x2="510.75" y2="111.50" stroke="#9fd3ee" stroke-width="1.3"/>
<line x1="508.25" y1="82.10" x2="513.25" y2="82.10" stroke="#45aee0" stroke-width="1.5"/>
<line x1="508.25" y1="111.50" x2="513.25" y2="111.50" stroke="#45aee0" stroke-width="1.5"/>
<rect x="508.65" y="96.20" width="4.2" height="11.00" fill="#44b0e2" stroke="#2c9fd5" stroke-width="0.8"/>
<line x1="508.65" y1="99.10" x2="512.85" y2="99.10" stroke="#1f96cf" stroke-width="1.2"/>
<circle cx="510.75" cy="74.30" r="1.75" fill="#2c9fd5"/>
<circle cx="510.75" cy="141.10" r="1.75" fill="#2c9fd5"/>
<line x1="516.43" y1="65.10" x2="516.43" y2="90.40" stroke="#f5b3b5" stroke-width="1.3"/>
<line x1="516.43" y1="115.20" x2="516.43" y2="142.30" stroke="#f5b3b5" stroke-width="1.3"/>
<line x1="513.93" y1="65.10" x2="518.93" y2="65.10" stroke="#ec7378" stroke-width="1.5"/>
<line x1="513.93" y1="142.30" x2="518.93" y2="142.30" stroke="#ec7378" stroke-width="1.5"/>
<rect x="514.33" y="90.40" width="4.2" height="24.80" fill="#ee7a7e" stroke="#e85a60" stroke-width="0.8"/>
<line x1="514.33" y1="103.00" x2="518.53" y2="103.00" stroke="#e04e56" stroke-width="1.2"/>
<line x1="522.11" y1="96.00" x2="522.11" y2="123.50" stroke="#fcd09c" stroke-width="1.3"/>
<line x1="522.11" y1="144.30" x2="522.11" y2="160.50" stroke="#fcd09c" stroke-width="1.3"/>
<line x1="519.61" y1="96.00" x2="524.61" y2="96.00" stroke="#fbaa4e" stroke-width="1.5"/>
<line x1="519.61" y1="160.50" x2="524.61" y2="160.50" stroke="#fbaa4e" stroke-width="1.5"/>
<rect x="520.01" y="123.50" width="4.2" height="20.80" fill="#fbad55" stroke="#f99a2c" stroke-width="0.8"/>
<line x1="520.01" y1="135.60" x2="524.21" y2="135.60" stroke="#f5921f" stroke-width="1.2"/>
<circle cx="522.11" cy="90.80" r="1.75" fill="#f99a2c"/>
<circle cx="522.11" cy="182.00" r="1.75" fill="#f99a2c"/>
<circle cx="522.11" cy="184.70" r="1.75" fill="#f99a2c"/>
<line x1="527.79" y1="81.10" x2="527.79" y2="89.40" stroke="#d3e7a5" stroke-width="1.3"/>
<line x1="527.79" y1="103.70" x2="527.79" y2="111.10" stroke="#d3e7a5" stroke-width="1.3"/>
<line x1="525.29" y1="81.10" x2="530.29" y2="81.10" stroke="#a5cc55" stroke-width="1.5"/>
<line x1="525.29" y1="111.10" x2="530.29" y2="111.10" stroke="#a5cc55" stroke-width="1.5"/>
<rect x="525.69" y="89.40" width="4.2" height="14.30" fill="#a8ce5a" stroke="#99c43f" stroke-width="0.8"/>
<line x1="525.69" y1="95.20" x2="529.89" y2="95.20" stroke="#8fbc33" stroke-width="1.2"/>
<circle cx="527.79" cy="129.40" r="1.75" fill="#99c43f"/>
<line x1="530.97" y1="130.60" x2="535.97" y2="130.60" stroke="#dde45a" stroke-width="1.5"/>
<line x1="539.15" y1="68.00" x2="539.15" y2="74.90" stroke="#d7b7e1" stroke-width="1.3"/>
<line x1="539.15" y1="97.20" x2="539.15" y2="108.20" stroke="#d7b7e1" stroke-width="1.3"/>
<line x1="536.65" y1="68.00" x2="541.65" y2="68.00" stroke="#b07dc4" stroke-width="1.5"/>
<line x1="536.65" y1="108.20" x2="541.65" y2="108.20" stroke="#b07dc4" stroke-width="1.5"/>
<rect x="537.05" y="74.90" width="4.2" height="22.30" fill="#b686c9" stroke="#a05bb4" stroke-width="0.8"/>
<line x1="537.05" y1="78.80" x2="541.25" y2="78.80" stroke="#9750ab" stroke-width="1.2"/>
<line x1="553.37" y1="64.50" x2="553.37" y2="83.30" stroke="#9fd3ee" stroke-width="1.3"/>
<line x1="553.37" y1="95.80" x2="553.37" y2="99.90" stroke="#9fd3ee" stroke-width="1.3"/>
<line x1="550.87" y1="64.50" x2="555.87" y2="64.50" stroke="#45aee0" stroke-width="1.5"/>
<line x1="550.87" y1="99.90" x2="555.87" y2="99.90" stroke="#45aee0" stroke-width="1.5"/>
<rect x="551.27" y="83.30" width="4.2" height="12.50" fill="#44b0e2" stroke="#2c9fd5" stroke-width="0.8"/>
<line x1="551.27" y1="87.10" x2="555.47" y2="87.10" stroke="#1f96cf" stroke-width="1.2"/>
<circle cx="553.37" cy="124.40" r="1.75" fill="#2c9fd5"/>
<line x1="559.05" y1="56.40" x2="559.05" y2="79.00" stroke="#f5b3b5" stroke-width="1.3"/>
<line x1="559.05" y1="103.00" x2="559.05" y2="125.30" stroke="#f5b3b5" stroke-width="1.3"/>
<line x1="556.55" y1="56.40" x2="561.55" y2="56.40" stroke="#ec7378" stroke-width="1.5"/>
<line x1="556.55" y1="125.30" x2="561.55" y2="125.30" stroke="#ec7378" stroke-width="1.5"/>
<rect x="556.95" y="79.00" width="4.2" height="24.00" fill="#ee7a7e" stroke="#e85a60" stroke-width="0.8"/>
<line x1="556.95" y1="91.20" x2="561.15" y2="91.20" stroke="#e04e56" stroke-width="1.2"/>
<line x1="564.73" y1="86.20" x2="564.73" y2="108.90" stroke="#fcd09c" stroke-width="1.3"/>
<line x1="564.73" y1="124.40" x2="564.73" y2="142.50" stroke="#fcd09c" stroke-width="1.3"/>
<line x1="562.23" y1="86.20" x2="567.23" y2="86.20" stroke="#fbaa4e" stroke-width="1.5"/>
<line x1="562.23" y1="142.50" x2="567.23" y2="142.50" stroke="#fbaa4e" stroke-width="1.5"/>
<rect x="562.63" y="108.90" width="4.2" height="15.50" fill="#fbad55" stroke="#f99a2c" stroke-width="0.8"/>
<line x1="562.63" y1="116.10" x2="566.83" y2="116.10" stroke="#f5921f" stroke-width="1.2"/>
<circle cx="564.73" cy="77.70" r="1.75" fill="#f99a2c"/>
<circle cx="564.73" cy="84.40" r="1.75" fill="#f99a2c"/>
<circle cx="564.73" cy="159.90" r="1.75" fill="#f99a2c"/>
<circle cx="564.73" cy="162.30" r="1.75" fill="#f99a2c"/>
<line x1="570.41" y1="66.40" x2="570.41" y2="78.00" stroke="#d3e7a5" stroke-width="1.3"/>
<line x1="570.41" y1="90.20" x2="570.41" y2="99.70" stroke="#d3e7a5" stroke-width="1.3"/>
<line x1="567.91" y1="66.40" x2="572.91" y2="66.40" stroke="#a5cc55" stroke-width="1.5"/>
<line x1="567.91" y1="99.70" x2="572.91" y2="99.70" stroke="#a5cc55" stroke-width="1.5"/>
<rect x="568.31" y="78.00" width="4.2" height="12.20" fill="#a8ce5a" stroke="#99c43f" stroke-width="0.8"/>
<line x1="568.31" y1="83.80" x2="572.51" y2="83.80" stroke="#8fbc33" stroke-width="1.2"/>
<circle cx="570.41" cy="122.00" r="1.75" fill="#99c43f"/>
<line x1="573.59" y1="120.40" x2="578.59" y2="120.40" stroke="#dde45a" stroke-width="1.5"/>
<line x1="581.77" y1="58.10" x2="581.77" y2="64.50" stroke="#d7b7e1" stroke-width="1.3"/>
<line x1="581.77" y1="86.40" x2="581.77" y2="98.40" stroke="#d7b7e1" stroke-width="1.3"/>
<line x1="579.27" y1="58.10" x2="584.27" y2="58.10" stroke="#b07dc4" stroke-width="1.5"/>
<line x1="579.27" y1="98.40" x2="584.27" y2="98.40" stroke="#b07dc4" stroke-width="1.5"/>
<rect x="579.67" y="64.50" width="4.2" height="21.90" fill="#b686c9" stroke="#a05bb4" stroke-width="0.8"/>
<line x1="579.67" y1="69.30" x2="583.87" y2="69.30" stroke="#9750ab" stroke-width="1.2"/>
<line x1="34.5" y1="55.5" x2="34.5" y2="333.3" stroke="#bdbdbd" stroke-width="1"/>
<line x1="34.0" y1="333.3" x2="589.0" y2="333.3" stroke="#bdbdbd" stroke-width="1"/>
<line x1="31.5" y1="303.30" x2="34.5" y2="303.30" stroke="#bdbdbd" stroke-width="1"/>
<text x="28.9" y="305.70" text-anchor="end" class="tk">20</text>
<line x1="31.5" y1="266.63" x2="34.5" y2="266.63" stroke="#bdbdbd" stroke-width="1"/>
<text x="28.9" y="269.03" text-anchor="end" class="tk">30</text>
<line x1="31.5" y1="229.97" x2="34.5" y2="229.97" stroke="#bdbdbd" stroke-width="1"/>
<text x="28.9" y="232.37" text-anchor="end" class="tk">40</text>
<line x1="31.5" y1="193.30" x2="34.5" y2="193.30" stroke="#bdbdbd" stroke-width="1"/>
<text x="28.9" y="195.70" text-anchor="end" class="tk">50</text>
<line x1="31.5" y1="156.63" x2="34.5" y2="156.63" stroke="#bdbdbd" stroke-width="1"/>
<text x="28.9" y="159.03" text-anchor="end" class="tk">60</text>
<line x1="31.5" y1="119.97" x2="34.5" y2="119.97" stroke="#bdbdbd" stroke-width="1"/>
<text x="28.9" y="122.37" text-anchor="end" class="tk">70</text>
<line x1="31.5" y1="83.30" x2="34.5" y2="83.30" stroke="#bdbdbd" stroke-width="1"/>
<text x="28.9" y="85.70" text-anchor="end" class="tk">80</text>
<line x1="55.60" y1="333.3" x2="55.60" y2="336.6" stroke="#b0b0b0" stroke-width="1"/>
<text x="56.20" y="346.8" text-anchor="middle" class="tk">1800</text>
<line x1="98.26" y1="333.3" x2="98.26" y2="336.6" stroke="#b0b0b0" stroke-width="1"/>
<text x="98.86" y="346.8" text-anchor="middle" class="tk">1820</text>
<line x1="140.92" y1="333.3" x2="140.92" y2="336.6" stroke="#b0b0b0" stroke-width="1"/>
<text x="141.52" y="346.8" text-anchor="middle" class="tk">1840</text>
<line x1="183.58" y1="333.3" x2="183.58" y2="336.6" stroke="#b0b0b0" stroke-width="1"/>
<text x="184.18" y="346.8" text-anchor="middle" class="tk">1860</text>
<line x1="226.24" y1="333.3" x2="226.24" y2="336.6" stroke="#b0b0b0" stroke-width="1"/>
<text x="226.84" y="346.8" text-anchor="middle" class="tk">1880</text>
<line x1="268.90" y1="333.3" x2="268.90" y2="336.6" stroke="#b0b0b0" stroke-width="1"/>
<text x="269.50" y="346.8" text-anchor="middle" class="tk">1900</text>
<line x1="311.56" y1="333.3" x2="311.56" y2="336.6" stroke="#b0b0b0" stroke-width="1"/>
<text x="312.16" y="346.8" text-anchor="middle" class="tk">1920</text>
<line x1="354.22" y1="333.3" x2="354.22" y2="336.6" stroke="#b0b0b0" stroke-width="1"/>
<text x="354.82" y="346.8" text-anchor="middle" class="tk">1940</text>
<line x1="396.88" y1="333.3" x2="396.88" y2="336.6" stroke="#b0b0b0" stroke-width="1"/>
<text x="397.48" y="346.8" text-anchor="middle" class="tk">1960</text>
<line x1="439.54" y1="333.3" x2="439.54" y2="336.6" stroke="#b0b0b0" stroke-width="1"/>
<text x="440.14" y="346.8" text-anchor="middle" class="tk">1980</text>
<line x1="482.20" y1="333.3" x2="482.20" y2="336.6" stroke="#b0b0b0" stroke-width="1"/>
<text x="482.80" y="346.8" text-anchor="middle" class="tk">2000</text>
<line x1="524.86" y1="333.3" x2="524.86" y2="336.6" stroke="#b0b0b0" stroke-width="1"/>
<text x="525.46" y="346.8" text-anchor="middle" class="tk">2020</text>
<line x1="567.52" y1="333.3" x2="567.52" y2="336.6" stroke="#b0b0b0" stroke-width="1"/>
<text x="568.12" y="346.8" text-anchor="middle" class="tk">2040</text>
<text transform="translate(296.8,14.3) scale(1,1.05)" text-anchor="middle" class="title">Distribution of Life expectancy by Year and Continent</text>
<text x="311.2" y="354.7" text-anchor="middle" class="axt">Year</text>
<text transform="translate(13.5,195.2) rotate(-90)" text-anchor="middle" class="axt">Life expectancy</text>
<line x1="155.80" y1="30.9" x2="155.80" y2="40.5" stroke="#9fd3ee" stroke-width="1.3"/>
<rect x="151.50" y="33.8" width="8.6" height="3.4" fill="#44b0e2" stroke="#2c9fd5" stroke-width="0.8"/>
<line x1="151.50" y1="35.5" x2="160.10" y2="35.5" stroke="#2c9fd5" stroke-width="0.6"/>
<text transform="translate(164.10,37.8) scale(1,1.17)" class="leg">North America</text>
<line x1="233.10" y1="30.9" x2="233.10" y2="40.5" stroke="#f5b3b5" stroke-width="1.3"/>
<rect x="228.80" y="33.8" width="8.6" height="3.4" fill="#ee7a7e" stroke="#e85a60" stroke-width="0.8"/>
<line x1="228.80" y1="35.5" x2="237.40" y2="35.5" stroke="#e85a60" stroke-width="0.6"/>
<text transform="translate(241.40,37.8) scale(1,1.17)" class="leg">Asia</text>
<line x1="277.80" y1="30.9" x2="277.80" y2="40.5" stroke="#fcd09c" stroke-width="1.3"/>
<rect x="273.50" y="33.8" width="8.6" height="3.4" fill="#fbad55" stroke="#f99a2c" stroke-width="0.8"/>
<line x1="273.50" y1="35.5" x2="282.10" y2="35.5" stroke="#f99a2c" stroke-width="0.6"/>
<text transform="translate(286.10,37.8) scale(1,1.17)" class="leg">Africa</text>
<line x1="326.50" y1="30.9" x2="326.50" y2="40.5" stroke="#d3e7a5" stroke-width="1.3"/>
<rect x="322.20" y="33.8" width="8.6" height="3.4" fill="#a8ce5a" stroke="#99c43f" stroke-width="0.8"/>
<line x1="322.20" y1="35.5" x2="330.80" y2="35.5" stroke="#99c43f" stroke-width="0.6"/>
<text transform="translate(334.80,37.8) scale(1,1.17)" class="leg">South America</text>
<line x1="405.90" y1="30.9" x2="405.90" y2="40.5" stroke="#d7b7e1" stroke-width="1.3"/>
<rect x="401.60" y="33.8" width="8.6" height="3.4" fill="#b686c9" stroke="#a05bb4" stroke-width="0.8"/>
<line x1="401.60" y1="35.5" x2="410.20" y2="35.5" stroke="#a05bb4" stroke-width="0.6"/>
<text transform="translate(414.20,37.8) scale(1,1.17)" class="leg">Europe</text>
</svg></div></body></html>
